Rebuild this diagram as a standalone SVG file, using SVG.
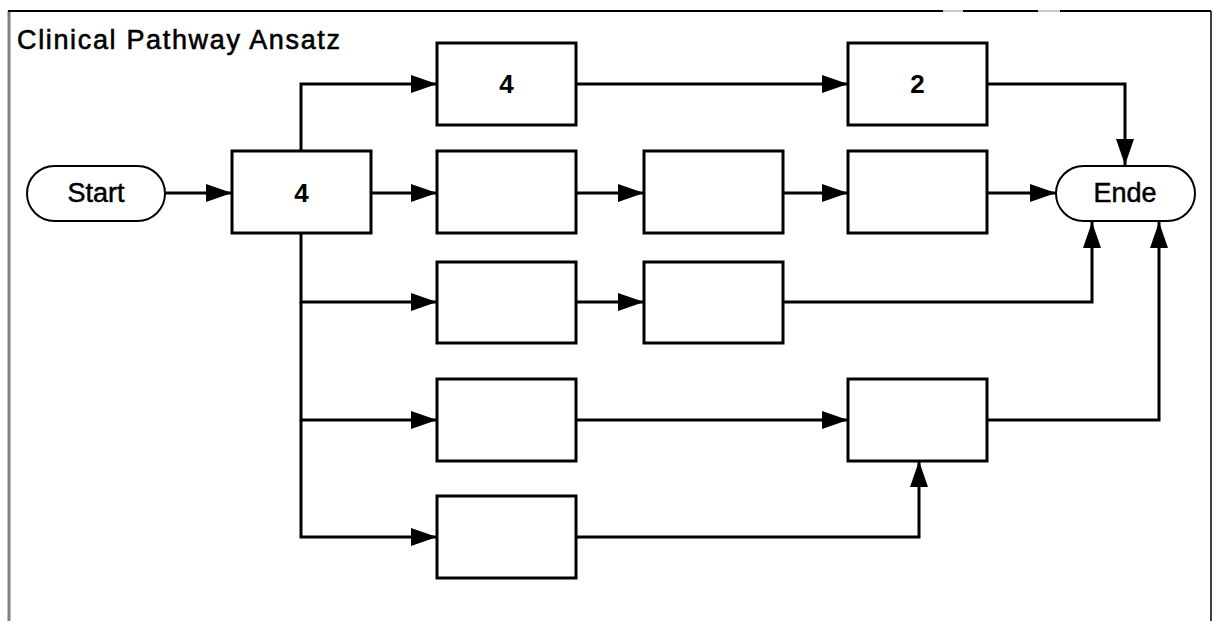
<svg xmlns="http://www.w3.org/2000/svg" width="1212" height="621" viewBox="0 0 1212 621">
  <style>
    .box { fill: #fff; stroke: #000; stroke-width: 3; }
    .term { fill: #fff; stroke: #000; stroke-width: 2; }
    .lbl { font-family: "Liberation Sans", Arial, sans-serif; font-size: 27px; fill: #000; stroke: #000; stroke-width: 0.5; text-anchor: middle; }
    .num { font-family: "Liberation Sans", Arial, sans-serif; font-size: 26px; font-weight: bold; fill: #000; text-anchor: middle; }
    .title { font-family: "Liberation Sans", Arial, sans-serif; font-size: 27px; fill: #000; stroke: #000; stroke-width: 0.6; }
    .edge { fill: none; stroke: #000; stroke-width: 3; marker-end: url(#arrow); }
  </style>
  <defs>
    <marker id="arrow" markerUnits="userSpaceOnUse" markerWidth="28" markerHeight="20" refX="26" refY="9" orient="auto">
      <path d="M0,0 L26,9 L0,18 Z" fill="#000"/>
    </marker>
  </defs>

  <rect width="1212" height="621" fill="#fff"/>

  <!-- frame -->
  <g id="frame">
    <line x1="9" y1="11" x2="9" y2="621" stroke="#808080" stroke-width="3"/>
    <line x1="8" y1="11" x2="1211" y2="11" stroke="#000" stroke-width="2"/>
    <line x1="943" y1="11" x2="963" y2="11" stroke="#c8c8c8" stroke-width="2"/>
    <line x1="1038" y1="11" x2="1060" y2="11" stroke="#c8c8c8" stroke-width="2"/>
    <line x1="1211" y1="11" x2="1211" y2="621" stroke="#000" stroke-width="1.5"/>
    <text class="title" x="17" y="49" textLength="323" lengthAdjust="spacing">Clinical Pathway Ansatz</text>
  </g>

  <!-- connectors -->
  <g id="connectors">
    <path class="edge" d="M165,193 L232,193"/>
    <path class="edge" d="M371,193 L437,193"/>
    <path class="edge" d="M301,151 L301,84 L437,84"/>
    <path class="edge" d="M301,233 L301,302 L437,302"/>
    <path class="edge" d="M301,302 L301,420 L437,420"/>
    <path class="edge" d="M301,420 L301,537 L437,537"/>
    <path class="edge" d="M576,84 L848,84"/>
    <path class="edge" d="M987,84 L1125,84 L1125,165"/>
    <path class="edge" d="M576,193 L644,193"/>
    <path class="edge" d="M783,193 L848,193"/>
    <path class="edge" d="M987,193 L1056,193"/>
    <path class="edge" d="M576,302 L644,302"/>
    <path class="edge" d="M783,302 L1092,302 L1092,222"/>
    <path class="edge" d="M576,420 L848,420"/>
    <path class="edge" d="M987,420 L1159,420 L1159,222"/>
    <path class="edge" d="M576,537 L919,537 L919,461"/>
  </g>

  <!-- terminals -->
  <g id="start">
    <rect class="term" x="27" y="166" width="138" height="55" rx="27.5"/>
    <text class="lbl" x="96" y="202">Start</text>
  </g>
  <g id="ende">
    <rect class="term" x="1056" y="166" width="139" height="55" rx="27.5"/>
    <text class="lbl" x="1125" y="202">Ende</text>
  </g>

  <!-- activities -->
  <g id="a0">
    <rect class="box" x="232" y="151" width="139" height="82"/>
    <text class="num" x="301.5" y="202">4</text>
  </g>
  <g id="a1">
    <rect class="box" x="437" y="43" width="139" height="82"/>
    <text class="num" x="506.5" y="93">4</text>
  </g>
  <g id="a2">
    <rect class="box" x="848" y="43" width="139" height="82"/>
    <text class="num" x="917.5" y="93">2</text>
  </g>
  <g id="b1"><rect class="box" x="437" y="151" width="139" height="82"/></g>
  <g id="b2"><rect class="box" x="644" y="151" width="139" height="82"/></g>
  <g id="b3"><rect class="box" x="848" y="151" width="139" height="82"/></g>
  <g id="c1"><rect class="box" x="437" y="262" width="139" height="81"/></g>
  <g id="c2"><rect class="box" x="644" y="262" width="139" height="81"/></g>
  <g id="d1"><rect class="box" x="437" y="379" width="139" height="82"/></g>
  <g id="d2"><rect class="box" x="848" y="379" width="139" height="82"/></g>
  <g id="e1"><rect class="box" x="437" y="496" width="139" height="82"/></g>
</svg>
